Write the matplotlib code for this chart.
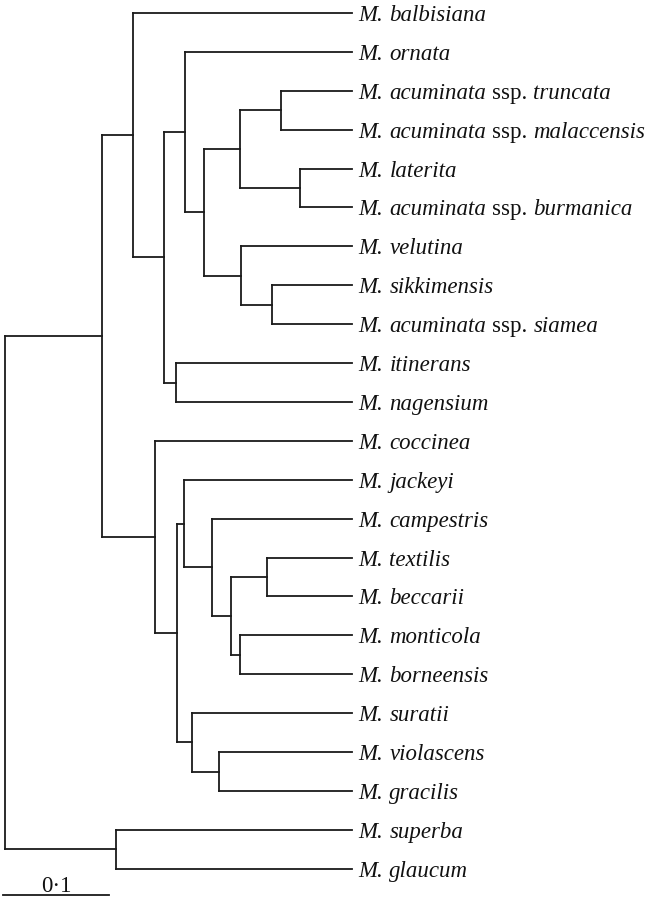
import matplotlib
matplotlib.use("Agg")
import matplotlib.pyplot as plt

# leaves, top to bottom
taxa = ["M. balbisiana", "M. ornata", "M. acuminata ssp. truncata",
        "M. acuminata ssp. malaccensis", "M. laterita",
        "M. acuminata ssp. burmanica", "M. velutina", "M. sikkimensis",
        "M. acuminata ssp. siamea", "M. itinerans", "M. nagensium",
        "M. coccinea", "M. jackeyi", "M. campestris", "M. textilis",
        "M. beccarii", "M. monticola", "M. borneensis", "M. suratii",
        "M. violascens", "M. gracilis", "M. superba", "M. glaucum"]
leaf_depth = 0.327

# internal nodes: distance from root and children
node_names = ["root", "A", "B", "C", "D", "E", "F", "G", "H", "I", "J", "K",
              "L", "M", "N", "O", "P", "Q", "R", "S", "T", "U"]
node_depths = [0.0, 0.0915, 0.1208, 0.150, 0.170, 0.1877, 0.2217, 0.260,
               0.278, 0.2226, 0.252, 0.161, 0.1415, 0.162, 0.169, 0.195,
               0.213, 0.247, 0.222, 0.176, 0.202, 0.105]
node_children = [
    ["A", "U"],
    ["B", "L"],
    ["M. balbisiana", "C"],
    ["D", "K"],
    ["M. ornata", "E"],
    ["F", "I"],
    ["G", "H"],
    ["M. acuminata ssp. truncata", "M. acuminata ssp. malaccensis"],
    ["M. laterita", "M. acuminata ssp. burmanica"],
    ["M. velutina", "J"],
    ["M. sikkimensis", "M. acuminata ssp. siamea"],
    ["M. itinerans", "M. nagensium"],
    ["M. coccinea", "M"],
    ["N", "S"],
    ["M. jackeyi", "O"],
    ["M. campestris", "P"],
    ["Q", "R"],
    ["M. textilis", "M. beccarii"],
    ["M. monticola", "M. borneensis"],
    ["M. suratii", "T"],
    ["M. violascens", "M. gracilis"],
    ["M. superba", "M. glaucum"],
]
scale_len = 0.1

depth = dict(zip(node_names, node_depths))
kids = dict(zip(node_names, node_children))
ypos = {t: i for i, t in enumerate(taxa)}
for t in taxa:
    depth[t] = leaf_depth


def get_y(n):
    if n not in ypos:
        ys = [get_y(c) for c in kids[n]]
        ypos[n] = (min(ys) + max(ys)) / 2
    return ypos[n]


get_y("root")

fig = plt.figure(figsize=(6.54, 9), dpi=100)
ax = fig.add_axes([0, 0, 1, 1])
px = 1060.0
ax.set_xlim(-5 / px, 649 / px)
ax.set_ylim((900 - 13) / 38.9, -13 / 38.9)
ax.axis("off")

col = "#1a1a1a"
lw = 1.3
for n in node_names:
    ys = [ypos[c] for c in kids[n]]
    ax.plot([depth[n], depth[n]], [min(ys), max(ys)], color=col, lw=lw,
            solid_capstyle="projecting")
    for c in kids[n]:
        ax.plot([depth[n], depth[c]], [ypos[c], ypos[c]], color=col, lw=lw,
                solid_capstyle="projecting")

# labels: "ssp." upright, the rest italic
fig.canvas.draw()
renderer = fig.canvas.get_renderer()
fam = "Liberation Serif"
fs = 16.5
for t in taxa:
    x = leaf_depth + 7 / px
    parts = t.split(" ")
    for k, w in enumerate(parts):
        style = "normal" if w == "ssp." else "italic"
        txt = ax.text(x, ypos[t], w, fontsize=fs, family=fam, style=style,
                      va="center_baseline", ha="left", color="#111111")
        bb = txt.get_window_extent(renderer)
        x = ax.transData.inverted().transform((bb.x1, 0))[0]
        x += 6 / px

# scale bar
ysb = (895 - 13) / 38.9
ax.plot([-2 / px, -2 / px + scale_len], [ysb, ysb], color=col, lw=lw)
ax.text(scale_len / 2 - 2 / px, ysb - 0.08, "0\u00b71", fontsize=fs,
        family=fam, ha="center", va="baseline", color="#111111")

fig.savefig("out.png", dpi=100)
